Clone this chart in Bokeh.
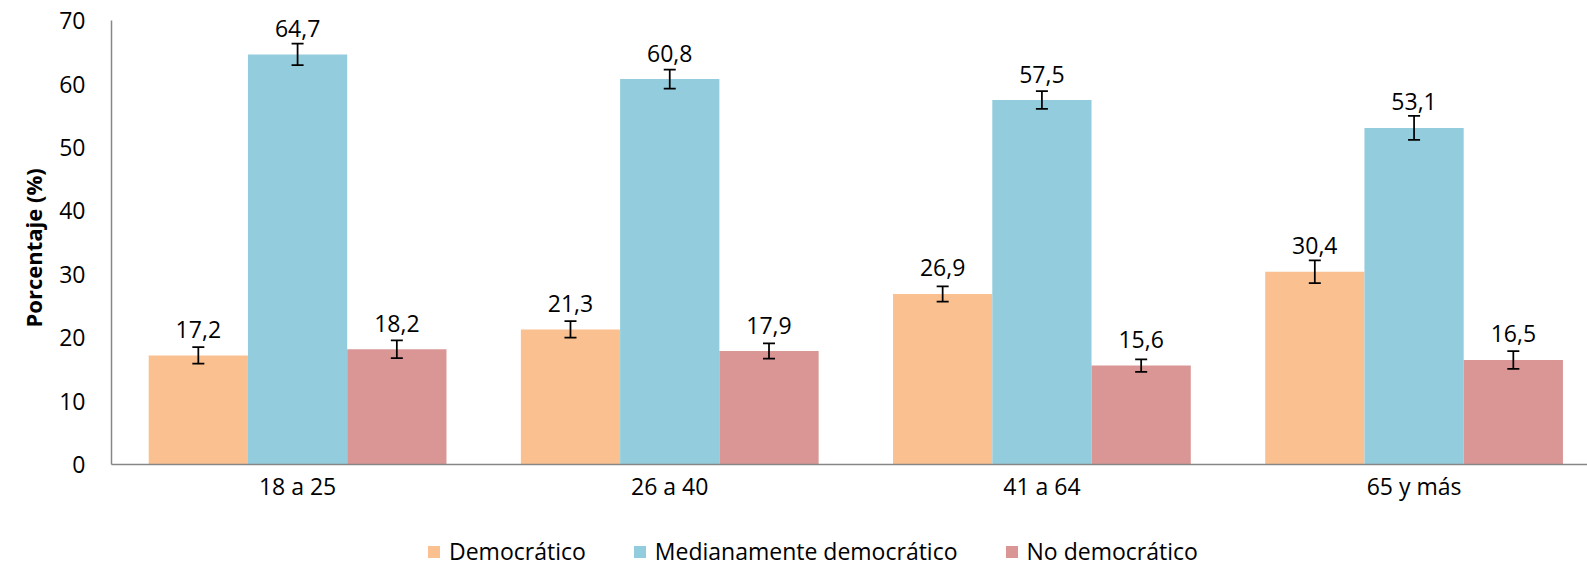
from bokeh.plotting import figure
from bokeh.layouts import column
from bokeh.models import (ColumnDataSource, Range1d, FixedTicker, Whisker, TeeHead,
                          Legend, LegendItem, Title)
from bokeh.core.properties import value
from bokeh.embed import file_html
from bokeh.resources import INLINE

# ---- data ----
categories = ["18 a 25", "26 a 40", "41 a 64", "65 y más"]
series = ["Democrático", "Medianamente democrático", "No democrático"]
democratico = [17.2, 21.3, 26.9, 30.4]
medianamente = [64.7, 60.8, 57.5, 53.1]
no_democratico = [18.2, 17.9, 15.6, 16.5]
err_democratico = [1.3, 1.3, 1.2, 1.8]
err_medianamente = [1.7, 1.5, 1.4, 1.9]
err_no_democratico = [1.4, 1.2, 1.0, 1.4]
y_ticks = [0, 10, 20, 30, 40, 50, 60, 70]
y_title = "Porcentaje (%)"
colors = ["#FAC090", "#93CDDD", "#D99694"]

values = [democratico, medianamente, no_democratico]
errors = [err_democratico, err_medianamente, err_no_democratico]

FONT = "Open Sans"
BAR_W = 0.2667
offsets = [-BAR_W, 0.0, BAR_W]
centers = [i + 0.5 for i in range(len(categories))]

p = figure(width=1587, height=520, output_backend="svg", toolbar_location=None,
           x_range=Range1d(0, 3.966), y_range=Range1d(0, 73.2),
           min_border_left=111, min_border_right=0, min_border_top=0,
           min_border_bottom=56)
p.outline_line_color = None
p.grid.visible = False
p.background_fill_color = "white"
p.border_fill_color = "white"

for s, vals, errs, col, off in zip(series, values, errors, colors, offsets):
    xs = [c + off for c in centers]
    src = ColumnDataSource(dict(
        x=xs, top=vals,
        upper=[v + e for v, e in zip(vals, errs)],
        lower=[v - e for v, e in zip(vals, errs)],
        label=[f"{v:.1f}".replace(".", ",") for v in vals]))
    p.vbar(x="x", top="top", bottom=0, width=BAR_W, source=src,
           fill_color=col, line_color=None)
    w = Whisker(source=src, base="x", upper="upper", lower="lower",
                line_color="black", line_width=1.75, level="annotation",
                upper_head=TeeHead(size=12, line_width=1.75, line_color="black"),
                lower_head=TeeHead(size=12, line_width=1.75, line_color="black"))
    p.add_layout(w)
    p.text(x="x", y="top", text="label", source=src, text_align="center",
           text_baseline="middle", y_offset=-26, text_font=value(FONT),
           text_font_size="23px", text_color="black")

# axes
p.xaxis.ticker = FixedTicker(ticks=centers)
p.xaxis.major_label_overrides = {c: lab for c, lab in zip(centers, categories)}
p.yaxis.ticker = FixedTicker(ticks=y_ticks)
p.yaxis.bounds = (y_ticks[0], y_ticks[-1])
for ax in (p.xaxis, p.yaxis):
    ax.axis_line_color = "#878787"
    ax.axis_line_width = 1.5
    ax.major_tick_line_color = None
    ax.minor_tick_line_color = None
    ax.major_tick_out = 0
    ax.major_tick_in = 0
    ax.minor_tick_out = 0
    ax.major_label_text_font = FONT
    ax.major_label_text_font_size = "23px"
    ax.major_label_text_color = "black"
p.xaxis.major_label_standoff = 5
p.yaxis.major_label_standoff = 26

# y-axis title, placed along the 0-70 span of the axis
p.add_layout(Title(text=y_title, align="left", offset=137, standoff=18,
                   text_font=FONT, text_font_size="22px",
                   text_font_style="bold", text_color="black"), "left")

# ---- legend strip ----
leg = figure(width=1587, height=47, output_backend="svg", toolbar_location=None,
             x_range=Range1d(0, 1), y_range=Range1d(0, 1),
             x_axis_type=None, y_axis_type=None,
             min_border_left=0, min_border_right=0, min_border_top=0,
             min_border_bottom=0)
leg.outline_line_color = None
leg.grid.visible = False
items = []
for s, col in zip(series, colors):
    # zero-height bars: only used to give each legend entry its swatch
    r = leg.vbar(x=[0.5], top=[0], bottom=[0], width=0.1, fill_color=col,
                 line_color=None)
    items.append(LegendItem(label=s, renderers=[r]))
legend = Legend(items=items, orientation="horizontal", location=(315, 0),
                glyph_width=15, glyph_height=15, label_standoff=8, spacing=46,
                padding=0, margin=0, border_line_alpha=0, background_fill_alpha=0,
                label_text_font=FONT, label_text_font_size="23px",
                label_text_color="black")
leg.add_layout(legend, "center")

open("out.html", "w").write(file_html(column(p, leg, spacing=0), INLINE))
